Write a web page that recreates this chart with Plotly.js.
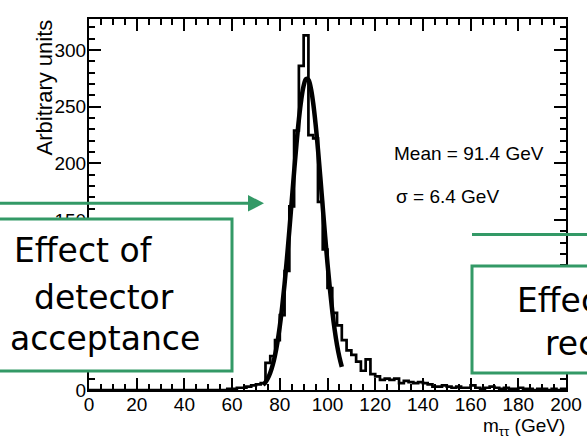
<!DOCTYPE html>
<html><head><meta charset="utf-8">
<script src="https://cdn.plot.ly/plotly-3.0.1.min.js"></script>
<style>html,body{margin:0;padding:0;background:#fff;}#chart{width:587px;height:441px;}</style>
</head><body><div id="chart"></div>
<script>
// ---- data ----
const binStart = 0;      // GeV, low edge of first bin
const binWidth = 2;      // GeV
const counts = [
  0,0,0,0,0,0,0,0,0,0,
  0,0,0,0,0,0,0,0,0,0,
  0,0,0,0,0,0,0,0,0,1,
  1,2,2,3,4,5,6,24,30,44,
  66,105,162,229,286,313,225,222,166,124,
  90,68,57,44,35,31,25,17,27,14,
  12,9,10,9,10,6,8,7,6,7,
  6,5,3,3,4,3,2,3,2,2,
  4,2,1,2,3,2,1,2,1,1,
  2,1,1,0,1,1,0,1,0,1
];
const fitMass = [73,74,75,76,77,78,79,80,81,82,83,84,85,86,87,88,89,90,91,92,93,94,95,96,97,98,99,100,101,102,103,104,105,106];
const fitValues = [4.4,6.8,10.3,15.2,21.9,30.7,42.1,56.3,73.5,93.5,116.2,140.9,166.8,192.6,217.1,238.8,256.3,268.5,274.5,273.8,266.5,253.2,234.8,212.4,187.5,161.6,135.9,111.5,89.3,69.8,53.2,39.6,28.8,20.4];
const xTickVals = [0,20,40,60,80,100,120,140,160,180,200];
const yTickVals = [0,150,200,250,300];   // 50 and 100 are hidden behind the boxes in the reference
const statLabels = ["Mean = 91.4 GeV", "σ = 6.4 GeV"];
const leftBoxLines = ["Effect of", "detector", "acceptance"];
const rightBoxLines = ["Effect of", "reconstruction"];
const xTitle = "m<sub>ττ</sub> (GeV)";
const yTitle = "Arbitrary units";

// ---- geometry ----
const W = 587, H = 441, L = 89, R = 566, T = 19, B = 390;
const px = x => (x - L) / (R - L);
const py = y => (B - y) / (B - T);
const green = '#339966';
const sans = 'Liberation Sans, Arial, Helvetica, sans-serif';
const boxFont = {family: 'DejaVu Sans, Verdana, sans-serif', size: 33, color: '#000'};

const edges = [];
const stepY = [];
for (let i = 0; i <= counts.length; i++) {
  edges.push(binStart + i * binWidth);
  stepY.push(counts[Math.min(i, counts.length - 1)]);
}

const traces = [
  {x: edges, y: stepY, type: 'scatter', mode: 'lines',
   line: {shape: 'hv', color: '#000', width: 2.7}, hoverinfo: 'skip'},
  {x: fitMass, y: fitValues, type: 'scatter', mode: 'lines',
   line: {shape: 'spline', color: '#000', width: 4.5}, hoverinfo: 'skip'}
];

const axisCommon = {
  showline: true, linewidth: 2, linecolor: '#000', mirror: 'allticks',
  ticks: 'inside', ticklen: 12, tickwidth: 2, tickcolor: '#000',
  showgrid: false, zeroline: false, fixedrange: true,
  tickfont: {family: sans, size: 19, color: '#000'}
};

const layout = {
  width: W, height: H,
  margin: {l: L, r: W - R, t: T, b: H - B, pad: 0},
  paper_bgcolor: '#fff', plot_bgcolor: '#fff',
  showlegend: false,
  xaxis: Object.assign({}, axisCommon, {range: [0, 200], tickmode: 'array', tickvals: xTickVals,
    ticklabelstandoff: -4,
    minor: {tick0: 0, dtick: 5, ticks: 'inside', ticklen: 6, tickwidth: 2, tickcolor: '#000'}}),
  yaxis: Object.assign({}, axisCommon, {range: [0, 327.4], tickmode: 'array', tickvals: yTickVals,
    ticklabelstandoff: -3,
    minor: {tick0: 0, dtick: 10, ticks: 'inside', ticklen: 6, tickwidth: 2, tickcolor: '#000'}}),
  shapes: [
    {type: 'line', xref: 'paper', yref: 'paper', x0: px(-10), x1: px(250), y0: py(203.3), y1: py(203.3),
     line: {color: green, width: 3}, layer: 'above'},
    {type: 'path', xref: 'paper', yref: 'paper', layer: 'above',
     path: `M ${px(248)} ${py(195)} L ${px(264)} ${py(203.3)} L ${px(248)} ${py(211.6)} Z`,
     fillcolor: green, line: {color: green, width: 0}},
    {type: 'rect', xref: 'paper', yref: 'paper', x0: px(-10), x1: px(232), y0: py(371), y1: py(219),
     line: {color: green, width: 3}, fillcolor: '#fff', layer: 'above'},
    {type: 'line', xref: 'paper', yref: 'paper', x0: px(472), x1: px(600), y0: py(234.5), y1: py(234.5),
     line: {color: green, width: 3}, layer: 'above'},
    {type: 'rect', xref: 'paper', yref: 'paper', x0: px(472), x1: px(610), y0: py(373), y1: py(266),
     line: {color: green, width: 3}, fillcolor: '#fff', layer: 'above'}
  ],
  annotations: [
    {text: statLabels[0], xref: 'paper', yref: 'paper', x: px(393), y: py(153.4), xanchor: 'left', yanchor: 'middle',
     showarrow: false, borderpad: 0, font: {family: sans, size: 19, color: '#000'}},
    {text: statLabels[1], xref: 'paper', yref: 'paper', x: px(395), y: py(196.4), xanchor: 'left', yanchor: 'middle',
     showarrow: false, borderpad: 0, font: {family: sans, size: 19, color: '#000'}},
    {text: yTitle, xref: 'paper', yref: 'paper', x: px(44.4), y: py(18), xanchor: 'center', yanchor: 'top',
     textangle: -90, showarrow: false, borderpad: 0, font: {family: sans, size: 22, color: '#000'}},
    {text: xTitle, xref: 'paper', yref: 'paper', x: px(566), y: py(427), xanchor: 'right', yanchor: 'middle',
     showarrow: false, borderpad: 0, font: {family: sans, size: 19, color: '#000'}},
    {text: leftBoxLines[0], xref: 'paper', yref: 'paper', x: px(13), y: py(250.6), xanchor: 'left', yanchor: 'middle',
     showarrow: false, borderpad: 0, font: boxFont},
    {text: leftBoxLines[1], xref: 'paper', yref: 'paper', x: px(104), y: py(297), xanchor: 'center', yanchor: 'middle',
     showarrow: false, borderpad: 0, font: boxFont},
    {text: leftBoxLines[2], xref: 'paper', yref: 'paper', x: px(105), y: py(338.6), xanchor: 'center', yanchor: 'middle',
     showarrow: false, borderpad: 0, font: boxFont},
    {text: rightBoxLines[0], xref: 'paper', yref: 'paper', x: px(516), y: py(300.6), xanchor: 'left', yanchor: 'middle',
     showarrow: false, borderpad: 0, font: boxFont},
    {text: rightBoxLines[1], xref: 'paper', yref: 'paper', x: px(544), y: py(343.6), xanchor: 'left', yanchor: 'middle',
     showarrow: false, borderpad: 0, font: boxFont}
  ]
};

Plotly.newPlot('chart', traces, layout, {staticPlot: true, displayModeBar: false});
</script>
</body></html>
